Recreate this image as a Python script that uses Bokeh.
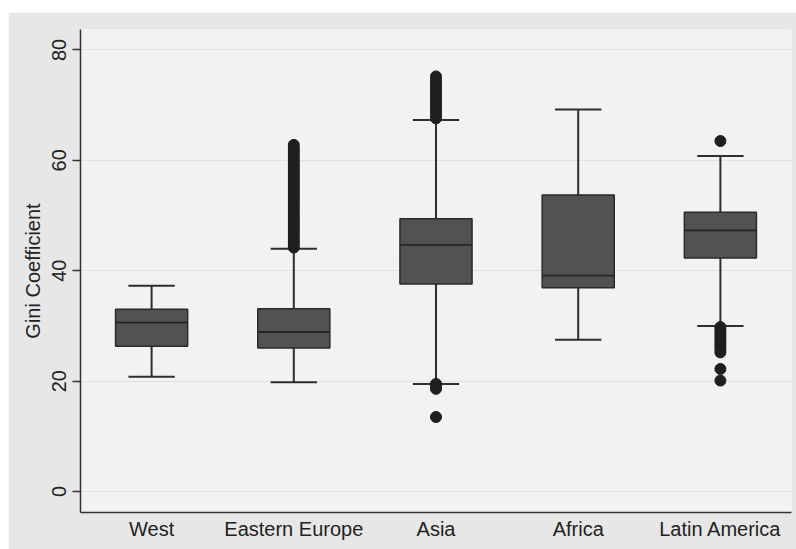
from bokeh.plotting import figure
from bokeh.models import ColumnDataSource, FactorRange, Range1d, FixedTicker
from bokeh.transform import dodge
from bokeh.embed import file_html
from bokeh.resources import INLINE

# ---- data ----
categories = ["West", "Eastern Europe", "Asia", "Africa", "Latin America"]
q1 = [26.3, 26.0, 37.6, 36.9, 42.3]
medians = [30.6, 28.9, 44.7, 39.1, 47.3]
q3 = [33.0, 33.1, 49.4, 53.7, 50.6]
lower_whisker = [20.8, 19.8, 19.5, 27.5, 30.0]
upper_whisker = [37.3, 44.0, 67.3, 69.2, 60.8]

eeurope_outliers = [44.2, 44.7, 45.2, 45.7, 46.2, 46.7, 47.2, 47.7, 48.2, 48.7,
                    49.2, 49.7, 50.2, 50.7, 51.2, 51.7, 52.2, 52.7, 53.2, 53.7,
                    54.2, 54.7, 55.2, 55.7, 56.2, 56.7, 57.2, 57.7, 58.2, 58.7,
                    59.2, 59.7, 60.2, 60.7, 61.2, 61.7, 62.2, 62.8]
asia_outliers = [67.6, 68.1, 68.6, 69.1, 69.6, 70.1, 70.6, 71.1, 71.6, 72.1,
                 72.6, 73.1, 73.6, 74.1, 74.6, 75.2, 19.5, 19.1, 18.6, 13.5]
latin_outliers = [63.5, 29.8, 29.3, 28.8, 28.3, 27.8, 27.3, 26.8, 26.3, 25.8,
                  25.2, 22.2, 20.1]

y_ticks = [0, 20, 40, 60, 80]

# ---- figure ----
p = figure(width=788, height=537, x_range=FactorRange(*categories, range_padding=0),
           y_range=Range1d(-3.8, 83.7), output_backend="svg", toolbar_location=None,
           min_border_left=72, min_border_right=5, min_border_top=17, min_border_bottom=37)
p.margin = (12, 0, 0, 8)
p.background_fill_color = "#f2f2f2"
p.border_fill_color = "#e7e7e7"
p.outline_line_color = None

box_src = ColumnDataSource(dict(cat=categories, q1=q1, med=medians, q3=q3,
                                lo=lower_whisker, hi=upper_whisker))

wc = "#2e2e2e"
# whiskers
p.segment(x0="cat", y0="q3", x1="cat", y1="hi", source=box_src, line_color=wc, line_width=2)
p.segment(x0="cat", y0="lo", x1="cat", y1="q1", source=box_src, line_color=wc, line_width=2)
# caps
p.segment(x0=dodge("cat", -0.163, range=p.x_range), y0="hi",
          x1=dodge("cat", 0.163, range=p.x_range), y1="hi",
          source=box_src, line_color=wc, line_width=2)
p.segment(x0=dodge("cat", -0.163, range=p.x_range), y0="lo",
          x1=dodge("cat", 0.163, range=p.x_range), y1="lo",
          source=box_src, line_color=wc, line_width=2)
# boxes
p.vbar(x="cat", bottom="q1", top="q3", width=0.507, source=box_src,
       fill_color="#525252", line_color="#2a2a2a", line_width=1.5)
# medians
p.segment(x0=dodge("cat", -0.253, range=p.x_range), y0="med",
          x1=dodge("cat", 0.253, range=p.x_range), y1="med",
          source=box_src, line_color="#262626", line_width=1.8)

# outliers
out_x = (["Eastern Europe"] * len(eeurope_outliers) + ["Asia"] * len(asia_outliers)
         + ["Latin America"] * len(latin_outliers))
out_y = eeurope_outliers + asia_outliers + latin_outliers
p.scatter(x=out_x, y=out_y, size=11, fill_color="#1f1f1f", line_color="#1f1f1f")

# grid
p.xgrid.grid_line_color = None
p.ygrid.ticker = FixedTicker(ticks=y_ticks)
p.ygrid.grid_line_color = "#e0e0e0"
p.ygrid.grid_line_width = 1

font = "Liberation Sans"
# y axis
p.yaxis.ticker = FixedTicker(ticks=y_ticks)
p.yaxis.axis_label = "Gini Coefficient"
p.yaxis.axis_label_text_font = font
p.yaxis.axis_label_text_font_style = "normal"
p.yaxis.axis_label_text_font_size = "20px"
p.yaxis.axis_label_text_color = "#222222"
p.yaxis.axis_label_standoff = 6
p.yaxis.major_label_orientation = "parallel"
p.yaxis.major_label_text_font = font
p.yaxis.major_label_text_font_size = "20px"
p.yaxis.major_label_text_color = "#222222"
p.yaxis.major_label_standoff = 6
p.yaxis.major_tick_out = 8
p.yaxis.major_tick_in = 0
p.yaxis.minor_tick_out = 0
p.yaxis.minor_tick_in = 0
p.yaxis.axis_line_color = "#333333"
p.yaxis.axis_line_width = 1.5
p.yaxis.major_tick_line_color = "#333333"
p.yaxis.major_tick_line_width = 1.5

# x axis
p.xaxis.major_label_text_font = font
p.xaxis.major_label_text_font_size = "20px"
p.xaxis.major_label_text_color = "#222222"
p.xaxis.major_label_standoff = 5
p.xaxis.major_tick_out = 0
p.xaxis.major_tick_in = 0
p.xaxis.axis_line_color = "#333333"
p.xaxis.axis_line_width = 1.5

open("out.html", "w").write(file_html(p, INLINE))
